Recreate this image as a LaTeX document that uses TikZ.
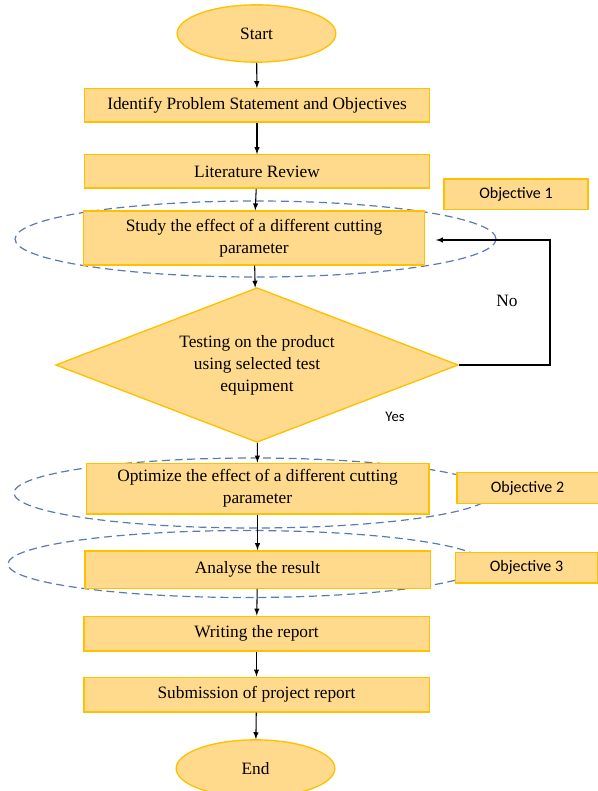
\documentclass[tikz,border=0pt]{standalone}
\usepackage{fontspec}
\setmainfont{Liberation Serif}
\newfontfamily\objfont{Carlito}
\usetikzlibrary{shapes.geometric}
\usetikzlibrary{arrows}

\definecolor{boxfill}{HTML}{FFD98C}
\definecolor{boxline}{HTML}{FFC000}
\definecolor{ringblue}{HTML}{5A7AB2}

\tikzset{
  procbox/.style={rectangle, draw=boxline, fill=boxfill, line width=1pt, inner sep=0pt,
    minimum width=259pt, minimum height=25pt, align=center, font=\fontsize{13}{16.5}\selectfont},
  termbox/.style={ellipse, draw=boxline, fill=boxfill, line width=1pt, inner sep=0pt,
    minimum width=119pt, minimum height=43pt, font=\fontsize{13}{16.5}\selectfont},
  decbox/.style={diamond, draw=boxline, fill=boxfill, line width=1pt, inner sep=0pt, aspect=2.6,
    minimum width=302pt, minimum height=116pt, align=center, font=\fontsize{13}{16.5}\selectfont},
  objbox/.style={rectangle, draw=boxline, fill=boxfill, line width=1pt, inner sep=0pt,
    minimum width=108pt, minimum height=23pt, font=\objfont\fontsize{12}{14}\selectfont},
  ring/.style={ellipse, draw=ringblue, line width=0.9pt, dash pattern=on 6pt off 3.5pt, inner sep=0pt},
  flow/.style={->, >=latex, line width=0.8pt, black}
}

\begin{document}
\begin{tikzpicture}[x=0.75pt, y=-0.75pt]

\useasboundingbox (0,0) rectangle (598,791);

% dashed rings round the objective steps
\node[ring, minimum width=360.75pt, minimum height=57pt] (ringone) at (255.5,239) {};
\node[ring, minimum width=358.5pt, minimum height=52.5pt] (ringtwo) at (253,493) {};
\node[ring, minimum width=357.75pt, minimum height=50.25pt] (ringthree) at (246.5,564) {};

% main flow
\node[termbox] (start) at (256.5,33.5) {Start};
\node[procbox] (ident) at (257,105.5) {Identify Problem Statement and Objectives};
\node[procbox] (litrev) at (257,171.5) {Literature Review};
\node[procbox, minimum width=256pt, minimum height=40.5pt] (study) at (254,238) {Study the effect of a different cutting\\parameter};
\node[decbox] (test) at (257,365) {Testing on the product\\using selected test\\equipment};
\node[procbox, minimum width=257pt, minimum height=38pt] (optim) at (257.5,488.5) {Optimize the effect of a different cutting\\parameter};
\node[procbox, minimum height=28pt] (analyse) at (257.5,569.5) {Analyse the result};
\node[procbox, minimum height=26pt] (writing) at (256.5,633.5) {Writing the report};
\node[procbox, minimum height=26pt] (submit) at (256.5,694.5) {Submission of project report};
\node[termbox] (finish) at (255.5,768.5) {End};

% objectives
\node[objbox] (objone) at (516,194.5) {Objective 1};
\node[objbox, minimum width=106pt] (objtwo) at (527.5,488) {Objective 2};
\node[objbox, minimum width=107pt] (objthree) at (526.5,567.5) {Objective 3};

% arrows
\draw[flow] (start) -- (ident);
\draw[flow] (ident) -- (litrev);
\draw[flow] (litrev) -- (study);
\draw[flow] (study) -- (test);
\draw[flow] (test) -- (optim);
\draw[flow] (optim) -- (analyse);
\draw[flow] (analyse) -- (writing);
\draw[flow] (writing) -- (submit);
\draw[flow] (submit) -- (finish);

% loop back
\coordinate (loopend) at (436,240);
\draw[flow] (test.east) -- ++(91,0) |- (loopend);
\node[font=\fontsize{13}{16.5}\selectfont] (nolabel) at (507,301) {No};
\node[font=\objfont\fontsize{11}{13}\selectfont] (yeslabel) at (395,417) {Yes};

\end{tikzpicture}
\end{document}
